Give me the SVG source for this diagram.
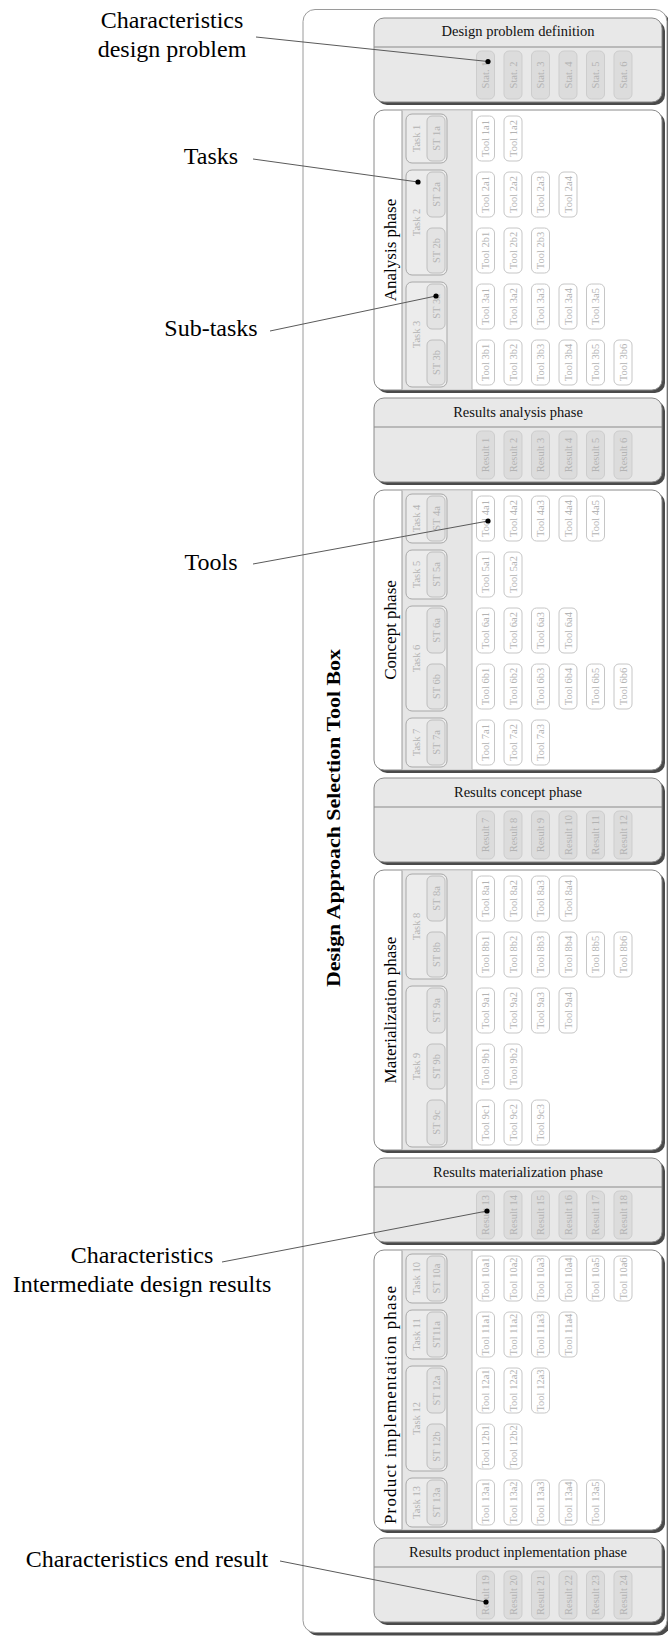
<svg xmlns="http://www.w3.org/2000/svg" width="668" height="1641" viewBox="0 0 668 1641">
<style>
.bg{fill:#fff}
.sh{fill:#4a4a4a}
.ob{fill:#fff;stroke:#9a9a9a;stroke-width:1}
.ph{fill:#fff;stroke:#8a8a8a;stroke-width:1}
.rs{fill:#e8e8e8;stroke:#8a8a8a;stroke-width:1}
.hl{stroke:#8a8a8a;stroke-width:1}
.col{fill:#e6e6e6}
.cl{stroke:#9a9a9a;stroke-width:1}
.cr{stroke:#b4b4b4;stroke-width:1}
.tk{fill:#ececec;stroke:#a8a8a8;stroke-width:1}
.st{fill:#e3e3e3;stroke:#bebebe;stroke-width:1}
.tl{fill:#fff;stroke:#c6c6c6;stroke-width:1}
.rb{fill:#dcdcdc;stroke:#cdcdcd;stroke-width:1}
.sm{font-family:"Liberation Serif","Times New Roman",serif;font-size:10.5px;fill:#b3b3b3;text-anchor:middle;dominant-baseline:central}
.hd{font-family:"Liberation Serif","Times New Roman",serif;font-size:14.5px;fill:#111;text-anchor:middle}
.pl{font-family:"Liberation Serif","Times New Roman",serif;font-size:17px;fill:#000;text-anchor:middle}
.tt{font-family:"Liberation Serif","Times New Roman",serif;font-size:19px;font-weight:bold;fill:#000;text-anchor:middle}
.lb{font-family:"Liberation Serif","Times New Roman",serif;font-size:24px;fill:#000;text-anchor:middle}
.cn{stroke:#5a5a5a;stroke-width:1;fill:none}
.dt{fill:#000}
</style>
<rect class="bg" x="0" y="0" width="668" height="1641"/>

<g id="toolbox">
<rect class="sh" x="306" y="12.5" width="364" height="1623" rx="12"/>
<rect class="ob" x="303" y="9.5" width="364" height="1623" rx="12"/>
<text class="tt" transform="translate(340,818) rotate(-90)" textLength="338" lengthAdjust="spacingAndGlyphs">Design Approach Selection Tool Box</text>
</g>

<g id="labels">
<text class="lb" x="172" y="28">Characteristics</text>
<text class="lb" x="172" y="57">design problem</text>
<text class="lb" x="211" y="164">Tasks</text>
<text class="lb" x="211" y="336">Sub-tasks</text>
<text class="lb" x="211" y="570">Tools</text>
<text class="lb" x="142" y="1263">Characteristics</text>
<text class="lb" x="142" y="1292">Intermediate design results</text>
<text class="lb" x="147" y="1567">Characteristics end result</text>
</g>

<!-- Design problem definition -->
<g id="dpd">
<rect class="sh" x="377" y="21" width="288" height="84" rx="10"/>
<rect class="rs" x="374" y="18" width="288" height="84" rx="10"/>
<line class="hl" x1="374" y1="47" x2="662" y2="47"/>
<text class="hd" x="518" y="36">Design problem definition</text>
<g transform="translate(476.5,51)"><rect class="rb" width="18" height="48" rx="5"/><text class="sm" transform="translate(9,24) rotate(-90)">Stat. 1</text></g>
<g transform="translate(504,51)"><rect class="rb" width="18" height="48" rx="5"/><text class="sm" transform="translate(9,24) rotate(-90)">Stat. 2</text></g>
<g transform="translate(531.5,51)"><rect class="rb" width="18" height="48" rx="5"/><text class="sm" transform="translate(9,24) rotate(-90)">Stat. 3</text></g>
<g transform="translate(559,51)"><rect class="rb" width="18" height="48" rx="5"/><text class="sm" transform="translate(9,24) rotate(-90)">Stat. 4</text></g>
<g transform="translate(586.5,51)"><rect class="rb" width="18" height="48" rx="5"/><text class="sm" transform="translate(9,24) rotate(-90)">Stat. 5</text></g>
<g transform="translate(614,51)"><rect class="rb" width="18" height="48" rx="5"/><text class="sm" transform="translate(9,24) rotate(-90)">Stat. 6</text></g>
</g>

<!-- Analysis phase -->
<g id="analysis">
<rect class="sh" x="377" y="113" width="288" height="280" rx="10"/>
<rect class="ph" x="374" y="110" width="288" height="280" rx="10"/>
<rect class="col" x="402" y="110.5" width="70" height="279"/>
<line class="cl" x1="402" y1="110.5" x2="402" y2="389.5"/>
<line class="cr" x1="472" y1="110.5" x2="472" y2="389.5"/>
<text class="pl" transform="translate(396,250) rotate(-90)">Analysis phase</text>
<g id="task1"><rect class="tk" x="406" y="114" width="41" height="49" rx="6"/><text class="sm" transform="translate(416.5,138.5) rotate(-90)">Task 1</text>
<rect class="st" x="427" y="116" width="18" height="45" rx="5"/><text class="sm" transform="translate(436,138.5) rotate(-90)">ST 1a</text></g>
<g id="task2"><rect class="tk" x="406" y="170" width="41" height="105" rx="6"/><text class="sm" transform="translate(416.5,222.5) rotate(-90)">Task 2</text>
<rect class="st" x="427" y="172" width="18" height="45" rx="5"/><text class="sm" transform="translate(436,194.5) rotate(-90)">ST 2a</text>
<rect class="st" x="427" y="228" width="18" height="45" rx="5"/><text class="sm" transform="translate(436,250.5) rotate(-90)">ST 2b</text></g>
<g id="task3"><rect class="tk" x="406" y="282" width="41" height="105" rx="6"/><text class="sm" transform="translate(416.5,334.5) rotate(-90)">Task 3</text>
<rect class="st" x="427" y="284" width="18" height="45" rx="5"/><text class="sm" transform="translate(436,306.5) rotate(-90)">ST 3a</text>
<rect class="st" x="427" y="340" width="18" height="45" rx="5"/><text class="sm" transform="translate(436,362.5) rotate(-90)">ST 3b</text></g>
<g transform="translate(476.5,116)"><rect class="tl" width="18" height="45" rx="5"/><text class="sm" transform="translate(9,22.5) rotate(-90)">Tool 1a1</text></g>
<g transform="translate(504,116)"><rect class="tl" width="18" height="45" rx="5"/><text class="sm" transform="translate(9,22.5) rotate(-90)">Tool 1a2</text></g>
<g transform="translate(476.5,172)"><rect class="tl" width="18" height="45" rx="5"/><text class="sm" transform="translate(9,22.5) rotate(-90)">Tool 2a1</text></g>
<g transform="translate(504,172)"><rect class="tl" width="18" height="45" rx="5"/><text class="sm" transform="translate(9,22.5) rotate(-90)">Tool 2a2</text></g>
<g transform="translate(531.5,172)"><rect class="tl" width="18" height="45" rx="5"/><text class="sm" transform="translate(9,22.5) rotate(-90)">Tool 2a3</text></g>
<g transform="translate(559,172)"><rect class="tl" width="18" height="45" rx="5"/><text class="sm" transform="translate(9,22.5) rotate(-90)">Tool 2a4</text></g>
<g transform="translate(476.5,228)"><rect class="tl" width="18" height="45" rx="5"/><text class="sm" transform="translate(9,22.5) rotate(-90)">Tool 2b1</text></g>
<g transform="translate(504,228)"><rect class="tl" width="18" height="45" rx="5"/><text class="sm" transform="translate(9,22.5) rotate(-90)">Tool 2b2</text></g>
<g transform="translate(531.5,228)"><rect class="tl" width="18" height="45" rx="5"/><text class="sm" transform="translate(9,22.5) rotate(-90)">Tool 2b3</text></g>
<g transform="translate(476.5,284)"><rect class="tl" width="18" height="45" rx="5"/><text class="sm" transform="translate(9,22.5) rotate(-90)">Tool 3a1</text></g>
<g transform="translate(504,284)"><rect class="tl" width="18" height="45" rx="5"/><text class="sm" transform="translate(9,22.5) rotate(-90)">Tool 3a2</text></g>
<g transform="translate(531.5,284)"><rect class="tl" width="18" height="45" rx="5"/><text class="sm" transform="translate(9,22.5) rotate(-90)">Tool 3a3</text></g>
<g transform="translate(559,284)"><rect class="tl" width="18" height="45" rx="5"/><text class="sm" transform="translate(9,22.5) rotate(-90)">Tool 3a4</text></g>
<g transform="translate(586.5,284)"><rect class="tl" width="18" height="45" rx="5"/><text class="sm" transform="translate(9,22.5) rotate(-90)">Tool 3a5</text></g>
<g transform="translate(476.5,340)"><rect class="tl" width="18" height="45" rx="5"/><text class="sm" transform="translate(9,22.5) rotate(-90)">Tool 3b1</text></g>
<g transform="translate(504,340)"><rect class="tl" width="18" height="45" rx="5"/><text class="sm" transform="translate(9,22.5) rotate(-90)">Tool 3b2</text></g>
<g transform="translate(531.5,340)"><rect class="tl" width="18" height="45" rx="5"/><text class="sm" transform="translate(9,22.5) rotate(-90)">Tool 3b3</text></g>
<g transform="translate(559,340)"><rect class="tl" width="18" height="45" rx="5"/><text class="sm" transform="translate(9,22.5) rotate(-90)">Tool 3b4</text></g>
<g transform="translate(586.5,340)"><rect class="tl" width="18" height="45" rx="5"/><text class="sm" transform="translate(9,22.5) rotate(-90)">Tool 3b5</text></g>
<g transform="translate(614,340)"><rect class="tl" width="18" height="45" rx="5"/><text class="sm" transform="translate(9,22.5) rotate(-90)">Tool 3b6</text></g>
</g>

<!-- Results analysis phase -->
<g id="res-analysis">
<rect class="sh" x="377" y="401" width="288" height="84" rx="10"/>
<rect class="rs" x="374" y="398" width="288" height="84" rx="10"/>
<line class="hl" x1="374" y1="427" x2="662" y2="427"/>
<text class="hd" x="518" y="417">Results analysis phase</text>
<g transform="translate(476.5,431)"><rect class="rb" width="18" height="48" rx="5"/><text class="sm" transform="translate(9,24) rotate(-90)">Result 1</text></g>
<g transform="translate(504,431)"><rect class="rb" width="18" height="48" rx="5"/><text class="sm" transform="translate(9,24) rotate(-90)">Result 2</text></g>
<g transform="translate(531.5,431)"><rect class="rb" width="18" height="48" rx="5"/><text class="sm" transform="translate(9,24) rotate(-90)">Result 3</text></g>
<g transform="translate(559,431)"><rect class="rb" width="18" height="48" rx="5"/><text class="sm" transform="translate(9,24) rotate(-90)">Result 4</text></g>
<g transform="translate(586.5,431)"><rect class="rb" width="18" height="48" rx="5"/><text class="sm" transform="translate(9,24) rotate(-90)">Result 5</text></g>
<g transform="translate(614,431)"><rect class="rb" width="18" height="48" rx="5"/><text class="sm" transform="translate(9,24) rotate(-90)">Result 6</text></g>
</g>

<!-- Concept phase -->
<g id="concept">
<rect class="sh" x="377" y="493" width="288" height="280" rx="10"/>
<rect class="ph" x="374" y="490" width="288" height="280" rx="10"/>
<rect class="col" x="402" y="490.5" width="70" height="279"/>
<line class="cl" x1="402" y1="490.5" x2="402" y2="769.5"/>
<line class="cr" x1="472" y1="490.5" x2="472" y2="769.5"/>
<text class="pl" transform="translate(396,630) rotate(-90)">Concept phase</text>
<g id="task4"><rect class="tk" x="406" y="494" width="41" height="49" rx="6"/><text class="sm" transform="translate(416.5,518.5) rotate(-90)">Task 4</text>
<rect class="st" x="427" y="496" width="18" height="45" rx="5"/><text class="sm" transform="translate(436,518.5) rotate(-90)">ST 4a</text></g>
<g id="task5"><rect class="tk" x="406" y="550" width="41" height="49" rx="6"/><text class="sm" transform="translate(416.5,574.5) rotate(-90)">Task 5</text>
<rect class="st" x="427" y="552" width="18" height="45" rx="5"/><text class="sm" transform="translate(436,574.5) rotate(-90)">ST 5a</text></g>
<g id="task6"><rect class="tk" x="406" y="606" width="41" height="105" rx="6"/><text class="sm" transform="translate(416.5,658.5) rotate(-90)">Task 6</text>
<rect class="st" x="427" y="608" width="18" height="45" rx="5"/><text class="sm" transform="translate(436,630.5) rotate(-90)">ST 6a</text>
<rect class="st" x="427" y="664" width="18" height="45" rx="5"/><text class="sm" transform="translate(436,686.5) rotate(-90)">ST 6b</text></g>
<g id="task7"><rect class="tk" x="406" y="718" width="41" height="49" rx="6"/><text class="sm" transform="translate(416.5,742.5) rotate(-90)">Task 7</text>
<rect class="st" x="427" y="720" width="18" height="45" rx="5"/><text class="sm" transform="translate(436,742.5) rotate(-90)">ST 7a</text></g>
<g transform="translate(476.5,496)"><rect class="tl" width="18" height="45" rx="5"/><text class="sm" transform="translate(9,22.5) rotate(-90)">Tool 4a1</text></g>
<g transform="translate(504,496)"><rect class="tl" width="18" height="45" rx="5"/><text class="sm" transform="translate(9,22.5) rotate(-90)">Tool 4a2</text></g>
<g transform="translate(531.5,496)"><rect class="tl" width="18" height="45" rx="5"/><text class="sm" transform="translate(9,22.5) rotate(-90)">Tool 4a3</text></g>
<g transform="translate(559,496)"><rect class="tl" width="18" height="45" rx="5"/><text class="sm" transform="translate(9,22.5) rotate(-90)">Tool 4a4</text></g>
<g transform="translate(586.5,496)"><rect class="tl" width="18" height="45" rx="5"/><text class="sm" transform="translate(9,22.5) rotate(-90)">Tool 4a5</text></g>
<g transform="translate(476.5,552)"><rect class="tl" width="18" height="45" rx="5"/><text class="sm" transform="translate(9,22.5) rotate(-90)">Tool 5a1</text></g>
<g transform="translate(504,552)"><rect class="tl" width="18" height="45" rx="5"/><text class="sm" transform="translate(9,22.5) rotate(-90)">Tool 5a2</text></g>
<g transform="translate(476.5,608)"><rect class="tl" width="18" height="45" rx="5"/><text class="sm" transform="translate(9,22.5) rotate(-90)">Tool 6a1</text></g>
<g transform="translate(504,608)"><rect class="tl" width="18" height="45" rx="5"/><text class="sm" transform="translate(9,22.5) rotate(-90)">Tool 6a2</text></g>
<g transform="translate(531.5,608)"><rect class="tl" width="18" height="45" rx="5"/><text class="sm" transform="translate(9,22.5) rotate(-90)">Tool 6a3</text></g>
<g transform="translate(559,608)"><rect class="tl" width="18" height="45" rx="5"/><text class="sm" transform="translate(9,22.5) rotate(-90)">Tool 6a4</text></g>
<g transform="translate(476.5,664)"><rect class="tl" width="18" height="45" rx="5"/><text class="sm" transform="translate(9,22.5) rotate(-90)">Tool 6b1</text></g>
<g transform="translate(504,664)"><rect class="tl" width="18" height="45" rx="5"/><text class="sm" transform="translate(9,22.5) rotate(-90)">Tool 6b2</text></g>
<g transform="translate(531.5,664)"><rect class="tl" width="18" height="45" rx="5"/><text class="sm" transform="translate(9,22.5) rotate(-90)">Tool 6b3</text></g>
<g transform="translate(559,664)"><rect class="tl" width="18" height="45" rx="5"/><text class="sm" transform="translate(9,22.5) rotate(-90)">Tool 6b4</text></g>
<g transform="translate(586.5,664)"><rect class="tl" width="18" height="45" rx="5"/><text class="sm" transform="translate(9,22.5) rotate(-90)">Tool 6b5</text></g>
<g transform="translate(614,664)"><rect class="tl" width="18" height="45" rx="5"/><text class="sm" transform="translate(9,22.5) rotate(-90)">Tool 6b6</text></g>
<g transform="translate(476.5,720)"><rect class="tl" width="18" height="45" rx="5"/><text class="sm" transform="translate(9,22.5) rotate(-90)">Tool 7a1</text></g>
<g transform="translate(504,720)"><rect class="tl" width="18" height="45" rx="5"/><text class="sm" transform="translate(9,22.5) rotate(-90)">Tool 7a2</text></g>
<g transform="translate(531.5,720)"><rect class="tl" width="18" height="45" rx="5"/><text class="sm" transform="translate(9,22.5) rotate(-90)">Tool 7a3</text></g>
</g>

<!-- Results concept phase -->
<g id="res-concept">
<rect class="sh" x="377" y="781" width="288" height="84" rx="10"/>
<rect class="rs" x="374" y="778" width="288" height="84" rx="10"/>
<line class="hl" x1="374" y1="807" x2="662" y2="807"/>
<text class="hd" x="518" y="797">Results concept phase</text>
<g transform="translate(476.5,811)"><rect class="rb" width="18" height="48" rx="5"/><text class="sm" transform="translate(9,24) rotate(-90)">Result 7</text></g>
<g transform="translate(504,811)"><rect class="rb" width="18" height="48" rx="5"/><text class="sm" transform="translate(9,24) rotate(-90)">Result 8</text></g>
<g transform="translate(531.5,811)"><rect class="rb" width="18" height="48" rx="5"/><text class="sm" transform="translate(9,24) rotate(-90)">Result 9</text></g>
<g transform="translate(559,811)"><rect class="rb" width="18" height="48" rx="5"/><text class="sm" transform="translate(9,24) rotate(-90)">Result 10</text></g>
<g transform="translate(586.5,811)"><rect class="rb" width="18" height="48" rx="5"/><text class="sm" transform="translate(9,24) rotate(-90)">Result 11</text></g>
<g transform="translate(614,811)"><rect class="rb" width="18" height="48" rx="5"/><text class="sm" transform="translate(9,24) rotate(-90)">Result 12</text></g>
</g>

<!-- Materialization phase -->
<g id="materialization">
<rect class="sh" x="377" y="873" width="288" height="280" rx="10"/>
<rect class="ph" x="374" y="870" width="288" height="280" rx="10"/>
<rect class="col" x="402" y="870.5" width="70" height="279"/>
<line class="cl" x1="402" y1="870.5" x2="402" y2="1149.5"/>
<line class="cr" x1="472" y1="870.5" x2="472" y2="1149.5"/>
<text class="pl" transform="translate(396,1010) rotate(-90)">Materialization phase</text>
<g id="task8"><rect class="tk" x="406" y="874" width="41" height="105" rx="6"/><text class="sm" transform="translate(416.5,926.5) rotate(-90)">Task 8</text>
<rect class="st" x="427" y="876" width="18" height="45" rx="5"/><text class="sm" transform="translate(436,898.5) rotate(-90)">ST 8a</text>
<rect class="st" x="427" y="932" width="18" height="45" rx="5"/><text class="sm" transform="translate(436,954.5) rotate(-90)">ST 8b</text></g>
<g id="task9"><rect class="tk" x="406" y="986" width="41" height="161" rx="6"/><text class="sm" transform="translate(416.5,1066.5) rotate(-90)">Task 9</text>
<rect class="st" x="427" y="988" width="18" height="45" rx="5"/><text class="sm" transform="translate(436,1010.5) rotate(-90)">ST 9a</text>
<rect class="st" x="427" y="1044" width="18" height="45" rx="5"/><text class="sm" transform="translate(436,1066.5) rotate(-90)">ST 9b</text>
<rect class="st" x="427" y="1100" width="18" height="45" rx="5"/><text class="sm" transform="translate(436,1122.5) rotate(-90)">ST 9c</text></g>
<g transform="translate(476.5,876)"><rect class="tl" width="18" height="45" rx="5"/><text class="sm" transform="translate(9,22.5) rotate(-90)">Tool 8a1</text></g>
<g transform="translate(504,876)"><rect class="tl" width="18" height="45" rx="5"/><text class="sm" transform="translate(9,22.5) rotate(-90)">Tool 8a2</text></g>
<g transform="translate(531.5,876)"><rect class="tl" width="18" height="45" rx="5"/><text class="sm" transform="translate(9,22.5) rotate(-90)">Tool 8a3</text></g>
<g transform="translate(559,876)"><rect class="tl" width="18" height="45" rx="5"/><text class="sm" transform="translate(9,22.5) rotate(-90)">Tool 8a4</text></g>
<g transform="translate(476.5,932)"><rect class="tl" width="18" height="45" rx="5"/><text class="sm" transform="translate(9,22.5) rotate(-90)">Tool 8b1</text></g>
<g transform="translate(504,932)"><rect class="tl" width="18" height="45" rx="5"/><text class="sm" transform="translate(9,22.5) rotate(-90)">Tool 8b2</text></g>
<g transform="translate(531.5,932)"><rect class="tl" width="18" height="45" rx="5"/><text class="sm" transform="translate(9,22.5) rotate(-90)">Tool 8b3</text></g>
<g transform="translate(559,932)"><rect class="tl" width="18" height="45" rx="5"/><text class="sm" transform="translate(9,22.5) rotate(-90)">Tool 8b4</text></g>
<g transform="translate(586.5,932)"><rect class="tl" width="18" height="45" rx="5"/><text class="sm" transform="translate(9,22.5) rotate(-90)">Tool 8b5</text></g>
<g transform="translate(614,932)"><rect class="tl" width="18" height="45" rx="5"/><text class="sm" transform="translate(9,22.5) rotate(-90)">Tool 8b6</text></g>
<g transform="translate(476.5,988)"><rect class="tl" width="18" height="45" rx="5"/><text class="sm" transform="translate(9,22.5) rotate(-90)">Tool 9a1</text></g>
<g transform="translate(504,988)"><rect class="tl" width="18" height="45" rx="5"/><text class="sm" transform="translate(9,22.5) rotate(-90)">Tool 9a2</text></g>
<g transform="translate(531.5,988)"><rect class="tl" width="18" height="45" rx="5"/><text class="sm" transform="translate(9,22.5) rotate(-90)">Tool 9a3</text></g>
<g transform="translate(559,988)"><rect class="tl" width="18" height="45" rx="5"/><text class="sm" transform="translate(9,22.5) rotate(-90)">Tool 9a4</text></g>
<g transform="translate(476.5,1044)"><rect class="tl" width="18" height="45" rx="5"/><text class="sm" transform="translate(9,22.5) rotate(-90)">Tool 9b1</text></g>
<g transform="translate(504,1044)"><rect class="tl" width="18" height="45" rx="5"/><text class="sm" transform="translate(9,22.5) rotate(-90)">Tool 9b2</text></g>
<g transform="translate(476.5,1100)"><rect class="tl" width="18" height="45" rx="5"/><text class="sm" transform="translate(9,22.5) rotate(-90)">Tool 9c1</text></g>
<g transform="translate(504,1100)"><rect class="tl" width="18" height="45" rx="5"/><text class="sm" transform="translate(9,22.5) rotate(-90)">Tool 9c2</text></g>
<g transform="translate(531.5,1100)"><rect class="tl" width="18" height="45" rx="5"/><text class="sm" transform="translate(9,22.5) rotate(-90)">Tool 9c3</text></g>
</g>

<!-- Results materialization phase -->
<g id="res-materialization">
<rect class="sh" x="377" y="1161" width="288" height="84" rx="10"/>
<rect class="rs" x="374" y="1158" width="288" height="84" rx="10"/>
<line class="hl" x1="374" y1="1187" x2="662" y2="1187"/>
<text class="hd" x="518" y="1177">Results materialization phase</text>
<g transform="translate(476.5,1191)"><rect class="rb" width="18" height="48" rx="5"/><text class="sm" transform="translate(9,24) rotate(-90)">Result 13</text></g>
<g transform="translate(504,1191)"><rect class="rb" width="18" height="48" rx="5"/><text class="sm" transform="translate(9,24) rotate(-90)">Result 14</text></g>
<g transform="translate(531.5,1191)"><rect class="rb" width="18" height="48" rx="5"/><text class="sm" transform="translate(9,24) rotate(-90)">Result 15</text></g>
<g transform="translate(559,1191)"><rect class="rb" width="18" height="48" rx="5"/><text class="sm" transform="translate(9,24) rotate(-90)">Result 16</text></g>
<g transform="translate(586.5,1191)"><rect class="rb" width="18" height="48" rx="5"/><text class="sm" transform="translate(9,24) rotate(-90)">Result 17</text></g>
<g transform="translate(614,1191)"><rect class="rb" width="18" height="48" rx="5"/><text class="sm" transform="translate(9,24) rotate(-90)">Result 18</text></g>
</g>

<!-- Product implementation phase -->
<g id="implementation">
<rect class="sh" x="377" y="1253" width="288" height="280" rx="10"/>
<rect class="ph" x="374" y="1250" width="288" height="280" rx="10"/>
<rect class="col" x="402" y="1250.5" width="70" height="279"/>
<line class="cl" x1="402" y1="1250.5" x2="402" y2="1529.5"/>
<line class="cr" x1="472" y1="1250.5" x2="472" y2="1529.5"/>
<text class="pl" transform="translate(396,1405) rotate(-90)" textLength="238" lengthAdjust="spacing">Product implementation phase</text>
<g id="task10"><rect class="tk" x="406" y="1254" width="41" height="49" rx="6"/><text class="sm" transform="translate(416.5,1278.5) rotate(-90)">Task 10</text>
<rect class="st" x="427" y="1256" width="18" height="45" rx="5"/><text class="sm" transform="translate(436,1278.5) rotate(-90)">ST 10a</text></g>
<g id="task11"><rect class="tk" x="406" y="1310" width="41" height="49" rx="6"/><text class="sm" transform="translate(416.5,1334.5) rotate(-90)">Task 11</text>
<rect class="st" x="427" y="1312" width="18" height="45" rx="5"/><text class="sm" transform="translate(436,1334.5) rotate(-90)">ST11a</text></g>
<g id="task12"><rect class="tk" x="406" y="1366" width="41" height="105" rx="6"/><text class="sm" transform="translate(416.5,1418.5) rotate(-90)">Task 12</text>
<rect class="st" x="427" y="1368" width="18" height="45" rx="5"/><text class="sm" transform="translate(436,1390.5) rotate(-90)">ST 12a</text>
<rect class="st" x="427" y="1424" width="18" height="45" rx="5"/><text class="sm" transform="translate(436,1446.5) rotate(-90)">ST 12b</text></g>
<g id="task13"><rect class="tk" x="406" y="1478" width="41" height="49" rx="6"/><text class="sm" transform="translate(416.5,1502.5) rotate(-90)">Task 13</text>
<rect class="st" x="427" y="1480" width="18" height="45" rx="5"/><text class="sm" transform="translate(436,1502.5) rotate(-90)">ST 13a</text></g>
<g transform="translate(476.5,1256)"><rect class="tl" width="18" height="45" rx="5"/><text class="sm" transform="translate(9,22.5) rotate(-90)">Tool 10a1</text></g>
<g transform="translate(504,1256)"><rect class="tl" width="18" height="45" rx="5"/><text class="sm" transform="translate(9,22.5) rotate(-90)">Tool 10a2</text></g>
<g transform="translate(531.5,1256)"><rect class="tl" width="18" height="45" rx="5"/><text class="sm" transform="translate(9,22.5) rotate(-90)">Tool 10a3</text></g>
<g transform="translate(559,1256)"><rect class="tl" width="18" height="45" rx="5"/><text class="sm" transform="translate(9,22.5) rotate(-90)">Tool 10a4</text></g>
<g transform="translate(586.5,1256)"><rect class="tl" width="18" height="45" rx="5"/><text class="sm" transform="translate(9,22.5) rotate(-90)">Tool 10a5</text></g>
<g transform="translate(614,1256)"><rect class="tl" width="18" height="45" rx="5"/><text class="sm" transform="translate(9,22.5) rotate(-90)">Tool 10a6</text></g>
<g transform="translate(476.5,1312)"><rect class="tl" width="18" height="45" rx="5"/><text class="sm" transform="translate(9,22.5) rotate(-90)">Tool 11a1</text></g>
<g transform="translate(504,1312)"><rect class="tl" width="18" height="45" rx="5"/><text class="sm" transform="translate(9,22.5) rotate(-90)">Tool 11a2</text></g>
<g transform="translate(531.5,1312)"><rect class="tl" width="18" height="45" rx="5"/><text class="sm" transform="translate(9,22.5) rotate(-90)">Tool 11a3</text></g>
<g transform="translate(559,1312)"><rect class="tl" width="18" height="45" rx="5"/><text class="sm" transform="translate(9,22.5) rotate(-90)">Tool 11a4</text></g>
<g transform="translate(476.5,1368)"><rect class="tl" width="18" height="45" rx="5"/><text class="sm" transform="translate(9,22.5) rotate(-90)">Tool 12a1</text></g>
<g transform="translate(504,1368)"><rect class="tl" width="18" height="45" rx="5"/><text class="sm" transform="translate(9,22.5) rotate(-90)">Tool 12a2</text></g>
<g transform="translate(531.5,1368)"><rect class="tl" width="18" height="45" rx="5"/><text class="sm" transform="translate(9,22.5) rotate(-90)">Tool 12a3</text></g>
<g transform="translate(476.5,1424)"><rect class="tl" width="18" height="45" rx="5"/><text class="sm" transform="translate(9,22.5) rotate(-90)">Tool 12b1</text></g>
<g transform="translate(504,1424)"><rect class="tl" width="18" height="45" rx="5"/><text class="sm" transform="translate(9,22.5) rotate(-90)">Tool 12b2</text></g>
<g transform="translate(476.5,1480)"><rect class="tl" width="18" height="45" rx="5"/><text class="sm" transform="translate(9,22.5) rotate(-90)">Tool 13a1</text></g>
<g transform="translate(504,1480)"><rect class="tl" width="18" height="45" rx="5"/><text class="sm" transform="translate(9,22.5) rotate(-90)">Tool 13a2</text></g>
<g transform="translate(531.5,1480)"><rect class="tl" width="18" height="45" rx="5"/><text class="sm" transform="translate(9,22.5) rotate(-90)">Tool 13a3</text></g>
<g transform="translate(559,1480)"><rect class="tl" width="18" height="45" rx="5"/><text class="sm" transform="translate(9,22.5) rotate(-90)">Tool 13a4</text></g>
<g transform="translate(586.5,1480)"><rect class="tl" width="18" height="45" rx="5"/><text class="sm" transform="translate(9,22.5) rotate(-90)">Tool 13a5</text></g>
</g>

<!-- Results product implementation phase -->
<g id="res-implementation">
<rect class="sh" x="377" y="1541" width="288" height="84" rx="10"/>
<rect class="rs" x="374" y="1538" width="288" height="84" rx="10"/>
<line class="hl" x1="374" y1="1567" x2="662" y2="1567"/>
<text class="hd" x="518" y="1557">Results product inplementation phase</text>
<g transform="translate(476.5,1571)"><rect class="rb" width="18" height="48" rx="5"/><text class="sm" transform="translate(9,24) rotate(-90)">Result 19</text></g>
<g transform="translate(504,1571)"><rect class="rb" width="18" height="48" rx="5"/><text class="sm" transform="translate(9,24) rotate(-90)">Result 20</text></g>
<g transform="translate(531.5,1571)"><rect class="rb" width="18" height="48" rx="5"/><text class="sm" transform="translate(9,24) rotate(-90)">Result 21</text></g>
<g transform="translate(559,1571)"><rect class="rb" width="18" height="48" rx="5"/><text class="sm" transform="translate(9,24) rotate(-90)">Result 22</text></g>
<g transform="translate(586.5,1571)"><rect class="rb" width="18" height="48" rx="5"/><text class="sm" transform="translate(9,24) rotate(-90)">Result 23</text></g>
<g transform="translate(614,1571)"><rect class="rb" width="18" height="48" rx="5"/><text class="sm" transform="translate(9,24) rotate(-90)">Result 24</text></g>
</g>

<g id="connectors">
<line class="cn" x1="256" y1="37" x2="488" y2="61.5"/>
<line class="cn" x1="253" y1="159" x2="418" y2="182"/>
<line class="cn" x1="270" y1="331" x2="436" y2="296"/>
<line class="cn" x1="253" y1="564" x2="488" y2="521"/>
<line class="cn" x1="222" y1="1262" x2="487" y2="1211"/>
<line class="cn" x1="280" y1="1561" x2="486" y2="1602"/>
<circle class="dt" cx="488" cy="61.5" r="2.6"/>
<circle class="dt" cx="418" cy="182" r="2.6"/>
<circle class="dt" cx="436" cy="296" r="2.6"/>
<circle class="dt" cx="488" cy="521" r="2.6"/>
<circle class="dt" cx="487" cy="1211" r="2.6"/>
<circle class="dt" cx="486" cy="1602" r="2.6"/>
</g>
</svg>
